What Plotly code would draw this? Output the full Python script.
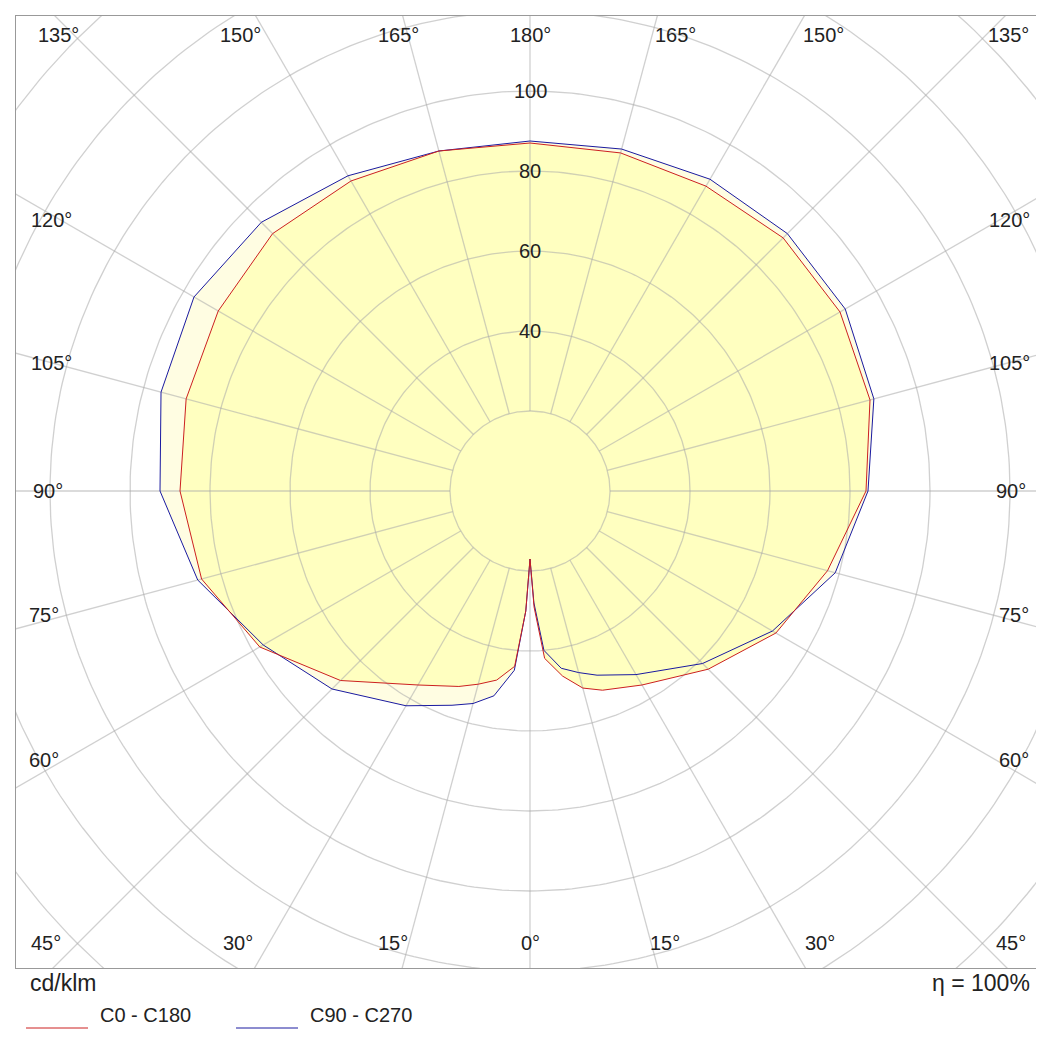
import numpy as np
import plotly.graph_objects as go

# gamma angles (deg, 0 = downward, 180 = upward)
gamma = [0, 2, 5, 10, 15, 20, 30, 45, 60, 75, 90, 105, 120, 135, 150, 165, 180]
# C0 - C180 (red): left half (C0) and right half (C180), cd/klm
red_left = [17, 30, 44, 48, 50, 52, 56, 67, 78, 85, 87.5, 89, 90, 91, 89.5, 88, 87]
red_right = [17, 29, 42, 47, 51, 53, 56, 63, 71, 77, 84, 88, 89.5, 89.5, 88, 87.5, 87]
# C90 - C270 (blue)
blue_left = [17, 30, 45, 52, 55, 57, 62, 70, 77, 86, 92.5, 95.5, 97, 95, 91, 88, 87.5]
blue_right = [17, 28, 40, 45, 47, 49, 53, 61, 70, 79, 84.5, 89, 91, 91, 90, 88.5, 87.5]

rings = [20, 40, 60, 80, 100, 120, 140, 160]
ring_labels = [40, 60, 80, 100]
spoke_step = 15

def xy(g, r, side):
    g = np.radians(np.array(g, dtype=float))
    r = np.array(r, dtype=float)
    return side * r * np.sin(g), -r * np.cos(g)

def curve(left, right):
    xr, yr = xy(gamma, right, 1)
    xl, yl = xy(gamma[::-1], left[::-1], -1)
    return np.concatenate([xr, xl]), np.concatenate([yr, yl])

fig = go.Figure()
bx, by = curve(blue_left, blue_right)
rx, ry = curve(red_left, red_right)
fig.add_trace(go.Scatter(x=bx, y=by, mode="none", fill="toself",
                         fillcolor="#fffde2", hoverinfo="skip"))
fig.add_trace(go.Scatter(x=rx, y=ry, mode="none", fill="toself",
                         fillcolor="#ffffc0", hoverinfo="skip"))

gx, gy = [], []
t = np.linspace(0, 2 * np.pi, 361)
for r in rings:
    gx += list(r * np.cos(t)) + [None]
    gy += list(r * np.sin(t)) + [None]
for a in range(0, 360, spoke_step):
    ar = np.radians(a)
    gx += [20 * np.sin(ar), 200 * np.sin(ar), None]
    gy += [-20 * np.cos(ar), -200 * np.cos(ar), None]
fig.add_trace(go.Scatter(x=gx, y=gy, mode="lines",
                         line=dict(color="rgba(170,170,170,0.55)", width=1.3),
                         hoverinfo="skip"))

fig.add_trace(go.Scatter(x=bx, y=by, mode="lines", line=dict(color="#1a1aa0", width=1)))
fig.add_trace(go.Scatter(x=rx, y=ry, mode="lines", line=dict(color="#cc2020", width=1)))

for v in ring_labels:
    fig.add_annotation(x=0, y=v, text=str(v), showarrow=False, font=dict(size=20, color="#222"))

lab = [("135°", 50, 27), ("150°", 232, 27), ("165°", 390, 27), ("180°", 522, 27),
       ("165°", 667, 27), ("150°", 815, 27), ("135°", 1000, 27),
       ("120°", 43, 212), ("105°", 43, 355), ("90°", 40, 483), ("75°", 36, 607), ("60°", 36, 752),
       ("120°", 1001, 212), ("105°", 1001, 355), ("90°", 1003, 483), ("75°", 1006, 607), ("60°", 1006, 752),
       ("45°", 38, 935), ("30°", 230, 935), ("15°", 385, 935), ("0°", 522, 935),
       ("15°", 657, 935), ("30°", 812, 935), ("45°", 1003, 935)]
for s, px, py in lab:
    fig.add_annotation(x=(px - 522) / 4, y=(483 - py) / 4, text=s, showarrow=False,
                       font=dict(size=20, color="#222"))

def paper(px, py):
    return (px - 8) / 1028, (960 - py) / 952

ax, ay = paper(20, 990)
fig.add_annotation(x=ax, y=ay, xref="paper", yref="paper", text="cd/klm", showarrow=False,
                   xanchor="left", font=dict(size=23, color="#222"))
ax, ay = paper(1024, 990)
fig.add_annotation(x=ax, y=ay, xref="paper", yref="paper", text="η = 100%", showarrow=False,
                   xanchor="right", font=dict(size=23, color="#222"))
for (x0, x1, tx, col, name) in [(18, 80, 90, "#cc2020", "C0 - C180"), (228, 290, 300, "#1a1aa0", "C90 - C270")]:
    p0, yy = paper(x0, 1020)
    p1, _ = paper(x1, 1020)
    fig.add_shape(type="line", xref="paper", yref="paper", x0=p0, x1=p1, y0=yy, y1=yy,
                  line=dict(color=col, width=1))
    pt, _ = paper(tx, 1020)
    fig.add_annotation(x=pt, y=yy, xref="paper", yref="paper", text=name, showarrow=False,
                       xanchor="left", font=dict(size=20, color="#222"))

fig.update_xaxes(range=[-128.5, 128.5], showgrid=False, zeroline=False,
                 showticklabels=False, ticks="", showline=True, mirror=True, linecolor="#999")
fig.update_yaxes(range=[-119.25, 118.75], showgrid=False, zeroline=False,
                 showticklabels=False, ticks="", showline=True, mirror=True, linecolor="#999")
fig.update_layout(width=1044, height=1046,
                  margin=dict(l=8, r=8, t=8, b=86, pad=0, autoexpand=False),
                  plot_bgcolor="white", paper_bgcolor="white", showlegend=False,
                  font=dict(family="Liberation Sans, Arial"))
fig.write_html("out.html")
